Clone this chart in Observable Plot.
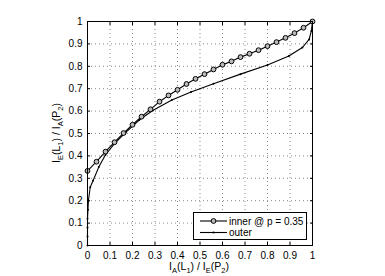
<!DOCTYPE html>
<html><head><meta charset="utf-8">
<script src="https://cdn.jsdelivr.net/npm/d3@7"></script>
<script src="https://cdn.jsdelivr.net/npm/@observablehq/plot@0.6"></script>
<style>body{margin:0;background:#fff;} svg{font-family:"Liberation Sans",Arial,sans-serif;}</style>
</head><body><div id="chart"></div>
<script>
const innerX = [0,0.04,0.08,0.12,0.16,0.20,0.24,0.28,0.32,0.36,0.40,0.44,0.48,0.52,0.56,0.60,0.64,0.68,0.72,0.76,0.80,0.84,0.88,0.92,0.96,1.0];
const innerY = [0.333,0.374,0.419,0.461,0.502,0.539,0.575,0.608,0.642,0.670,0.695,0.721,0.744,0.765,0.786,0.807,0.822,0.841,0.856,0.872,0.890,0.908,0.927,0.948,0.972,1.0];
const outerX = [0,0,0,0,0.002,0.004,0.012,0.025,0.05,0.08,0.12,0.17,0.23,0.29,0.375,0.46,0.56,0.68,0.80,0.895,0.955,0.985,0.995,1];
const outerY = [0,0.04,0.08,0.12,0.16,0.20,0.26,0.29,0.35,0.405,0.455,0.505,0.56,0.603,0.65,0.685,0.722,0.765,0.806,0.846,0.884,0.92,0.958,1];
const ticks = [0,0.1,0.2,0.3,0.4,0.5,0.6,0.7,0.8,0.9,1];
const tickLabels = ["0","0.1","0.2","0.3","0.4","0.5","0.6","0.7","0.8","0.9","1"];
const seriesNames = ["inner @ p = 0.35","outer"];

const inner = innerX.map((x,i)=>({x, y: innerY[i]}));
const outer = outerX.map((x,i)=>({x, y: outerY[i]}));
const fmt = d => tickLabels[ticks.indexOf(d)] ?? "";
const blank = () => "";

const plot = Plot.plot({
  width: 385, height: 276,
  marginLeft: 87, marginRight: 73, marginTop: 21, marginBottom: 31,
  style: {fontFamily: "Liberation Sans, Arial, sans-serif", fontSize: "10px", background: "white"},
  x: {domain: [0,1]},
  y: {domain: [0,1]},
  marks: [
    Plot.ruleX(ticks.slice(1,-1), {stroke: "#888", strokeDasharray: "1,3", strokeWidth: 1}),
    Plot.ruleY(ticks.slice(1,-1), {stroke: "#888", strokeDasharray: "1,3", strokeWidth: 1}),
    Plot.axisX({ticks, tickFormat: fmt, tickSize: -3, tickPadding: 9, label: null, fill: "black", stroke: "black"}),
    Plot.axisX({ticks, anchor: "top", tickFormat: blank, tickSize: -3, label: null, stroke: "black"}),
    Plot.axisY({ticks, tickFormat: fmt, tickSize: -3, tickPadding: 8, label: null, fill: "black", stroke: "black"}),
    Plot.axisY({ticks, anchor: "right", tickFormat: blank, tickSize: -3, label: null, stroke: "black"}),
    Plot.line(outer, {x: "x", y: "y", stroke: "black", strokeWidth: 1.1}),
    Plot.dot(outer, {x: "x", y: "y", r: 1, fill: "black"}),
    Plot.line(inner, {x: "x", y: "y", stroke: "black", strokeWidth: 1.1}),
    Plot.dot(inner, {x: "x", y: "y", r: 2.4, stroke: "black", fill: "#bbb", strokeWidth: 1}),
    Plot.frame({stroke: "black"})
  ]
});
document.getElementById("chart").appendChild(plot);

const svg = d3.select(plot);
function subLabel(g, parts) {
  parts.forEach(([t, sub]) => {
    g.append("tspan").text(t);
    if (sub) g.append("tspan").attr("baseline-shift","-35%").attr("font-size","7.5px").text(sub);
  });
}
const xl = svg.append("text").attr("x", 199).attr("y", 270).attr("text-anchor","middle").attr("font-size","10.5px").attr("fill","black");
subLabel(xl, [["I","A"],["(L","1"],[") / I","E"],["(P","2"],[")",null]]);
const yl = svg.append("text").attr("transform","translate(60,133) rotate(-90)").attr("text-anchor","middle").attr("font-size","10.5px").attr("fill","black");
subLabel(yl, [["I","E"],["(L","1"],[") / I","A"],["(P","2"],[")",null]]);

const lg = svg.append("g").attr("text-anchor","start");
lg.append("rect").attr("x",193.5).attr("y",212.5).attr("width",113).attr("height",27).attr("fill","white").attr("stroke","black");
lg.append("line").attr("x1",200).attr("x2",227).attr("y1",221).attr("y2",221).attr("stroke","black").attr("stroke-width",1.1);
lg.append("circle").attr("cx",213.5).attr("cy",221).attr("r",2.4).attr("stroke","black").attr("fill","#bbb");
lg.append("line").attr("x1",200).attr("x2",227).attr("y1",232.5).attr("y2",232.5).attr("stroke","black").attr("stroke-width",1.1);
lg.append("circle").attr("cx",213.5).attr("cy",232.5).attr("r",1).attr("fill","black");
lg.append("text").attr("x",229).attr("y",224.5).attr("font-size","10px").attr("text-anchor","start").text(seriesNames[0]);
lg.append("text").attr("x",229).attr("y",236).attr("font-size","10px").attr("text-anchor","start").text(seriesNames[1]);
</script>
</body></html>
